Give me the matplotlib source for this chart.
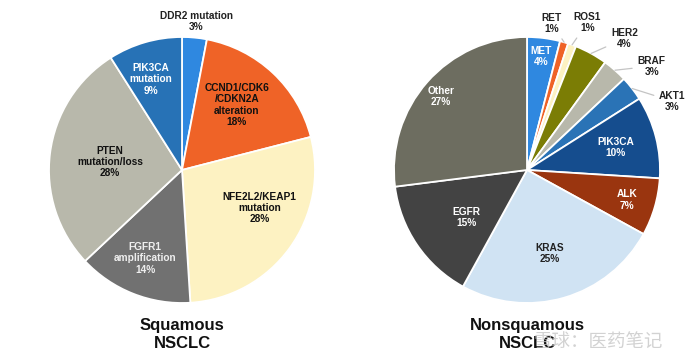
import numpy as np
import matplotlib.pyplot as plt

plt.rcParams['font.family'] = ['Liberation Sans', 'DejaVu Sans']

# Squamous NSCLC, clockwise from 12 o'clock
sq_names = ['DDR2 mutation', 'CCND1/CDK6\n/CDKN2A\nalteration', 'NFE2L2/KEAP1\nmutation',
            'FGFR1\namplification', 'PTEN\nmutation/loss', 'PIK3CA\nmutation']
sq_values = [3, 18, 28, 14, 28, 9]

# Nonsquamous NSCLC, clockwise from 12 o'clock
ns_names = ['MET', 'RET', 'ROS1', 'HER2', 'BRAF', 'AKT1', 'PIK3CA', 'ALK', 'KRAS', 'EGFR', 'Other']
ns_values = [4, 1, 1, 4, 3, 3, 10, 7, 25, 15, 27]

sq_colors = ['#2f88e0', '#ef6327', '#fdf2c2', '#717171', '#b8b8ab', '#2772b6']
sq_text = ['#222222', '#111111', '#111111', '#eeeeee', '#111111', '#ffffff']
sq_label_r = [1.12, 0.64, 0.65, 0.72, 0.545, 0.72]
sq_label_shift = [0, 3, 10, -1, 1, 2.6]
sq_outside = [False] * 6

ns_colors = ['#2f88e0', '#ef6327', '#fdf2c2', '#7b7d05', '#b8b8ab', '#2a73b6',
             '#154d8e', '#9a350f', '#d0e3f3', '#434343', '#6d6d60']
ns_text = ['#ffffff', '#222222', '#222222', '#222222', '#222222', '#222222',
           '#ffffff', '#ffffff', '#222222', '#ffffff', '#ffffff']
ns_label_r = [0.86, 1.12, 1.2, 1.23, 1.22, 1.21, 0.69, 0.785, 0.65, 0.58, 0.85]
ns_label_shift = [0, 6.6, -2.5, -7.8, -8.8, -12.5, 0, -0.5, -1, 4, 1]
ns_outside = [False, True, True, True, True, True, False, False, False, False, False]

R = 133
FS = 7.3

fig = plt.figure(figsize=(6.88, 3.63), dpi=100)
ax = fig.add_axes([0, 0, 1, 1])


def draw_pie(center, values, names, colors, text_colors, label_r, shift, outside):
    wedges, _ = ax.pie(values, colors=colors, startangle=90, counterclock=False,
                       center=center, radius=R, frame=True,
                       wedgeprops=dict(edgecolor='white', linewidth=1.3))
    for w, v, name, tc, lr, sh, out in zip(wedges, values, names, text_colors,
                                           label_r, shift, outside):
        mid = np.deg2rad((w.theta1 + w.theta2) / 2)
        ang = mid + np.deg2rad(sh)
        tx = center[0] + lr * R * np.cos(ang)
        ty = center[1] + lr * R * np.sin(ang)
        label = f'{name}\n{v}%'
        if out:
            ex = center[0] + R * np.cos(mid)
            ey = center[1] + R * np.sin(mid)
            ax.annotate(label, xy=(ex, ey), xytext=(tx, ty), ha='center', va='center',
                        fontsize=FS, fontweight='bold', color=tc, linespacing=1.15,
                        arrowprops=dict(arrowstyle='-', color='#c4c4c4', lw=0.9,
                                        shrinkA=2, shrinkB=0))
        else:
            ax.text(tx, ty, label, ha='center', va='center', fontsize=FS,
                    fontweight='bold', color=tc, linespacing=1.15)


draw_pie((182, 193), sq_values, sq_names, sq_colors, sq_text, sq_label_r, sq_label_shift, sq_outside)
draw_pie((527, 193), ns_values, ns_names, ns_colors, ns_text, ns_label_r, ns_label_shift, ns_outside)

ax.text(182, 28.5, 'Squamous\nNSCLC', ha='center', va='center', fontsize=12,
        fontweight='bold', color='#111111', linespacing=1.25)
ax.text(527, 28.5, 'Nonsquamous\nNSCLC', ha='center', va='center', fontsize=12,
        fontweight='bold', color='#111111', linespacing=1.25)

# watermark
ax.text(598, 21, '雪球：医药笔记', ha='center', va='center', fontsize=13.3,
        color='#c4c4c4', alpha=0.75, family=['Noto Sans CJK SC', 'DejaVu Sans'])

ax.set_xlim(0, 688)
ax.set_ylim(0, 363)
ax.set_aspect('equal')
ax.axis('off')

fig.savefig('out.png', dpi=100)
